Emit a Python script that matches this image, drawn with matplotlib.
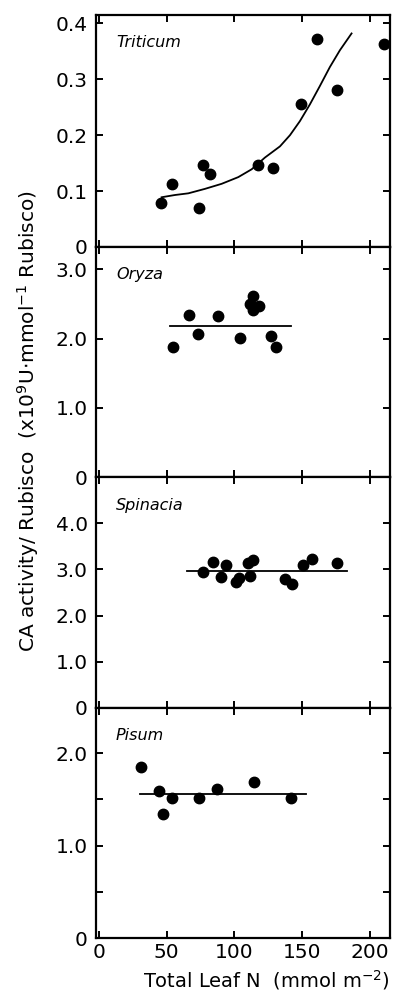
import matplotlib
matplotlib.use("Agg")
import matplotlib.pyplot as plt

# Triticum
tri_n = [45.8, 54.2, 74.1, 77.0, 82.2, 117.4, 128.3, 149.0, 161.2, 176.0, 210.7]
tri_ca = [0.078, 0.113, 0.069, 0.146, 0.130, 0.147, 0.142, 0.256, 0.372, 0.281, 0.363]
tri_fit_n = [46.3, 56.1, 66.0, 78.3, 90.6, 102.9, 112.8, 122.6, 133.7, 141.1,
             148.4, 155.8, 163.2, 170.6, 178.0, 186.6]
tri_fit_ca = [0.089, 0.093, 0.096, 0.104, 0.113, 0.125, 0.139, 0.160, 0.180, 0.200,
              0.225, 0.255, 0.288, 0.322, 0.352, 0.382]

# Oryza
ory_n = [54.6, 66.5, 72.9, 87.7, 104.0, 111.5, 113.5, 113.7, 118.2, 127.0, 130.5]
ory_ca = [1.88, 2.34, 2.07, 2.33, 2.01, 2.50, 2.62, 2.41, 2.47, 2.03, 1.88]
ory_fit_n = [52.7, 141.8]
ory_fit_ca = [2.18, 2.18]

# Spinacia
spi_n = [77.0, 84.4, 93.6, 89.9, 101.2, 103.6, 111.5, 109.8, 114.0, 137.4, 142.3, 150.4, 157.5, 175.6]
spi_ca = [2.94, 3.17, 3.10, 2.83, 2.73, 2.81, 2.85, 3.14, 3.20, 2.80, 2.68, 3.10, 3.23, 3.14]
spi_fit_n = [65.2, 183.0]
spi_fit_ca = [2.96, 2.96]

# Pisum
pis_n = [30.8, 44.1, 47.5, 54.1, 73.6, 87.1, 114.7, 141.6]
pis_ca = [1.855, 1.59, 1.34, 1.52, 1.51, 1.61, 1.69, 1.51]
pis_fit_n = [30.3, 153.0]
pis_fit_ca = [1.56, 1.56]

x_ticks = [0, 50, 100, 150, 200]

panels = [
    ("Triticum", tri_n, tri_ca, tri_fit_n, tri_fit_ca, 0.415,
     [0, 0.1, 0.2, 0.3, 0.4], ["0", "0.1", "0.2", "0.3", "0.4"], []),
    ("Oryza", ory_n, ory_ca, ory_fit_n, ory_fit_ca, 3.32,
     [0, 1, 2, 3], ["0", "1.0", "2.0", "3.0"], []),
    ("Spinacia", spi_n, spi_ca, spi_fit_n, spi_fit_ca, 5.0,
     [0, 1, 2, 3, 4], ["0", "1.0", "2.0", "3.0", "4.0"], []),
    ("Pisum", pis_n, pis_ca, pis_fit_n, pis_fit_ca, 2.49,
     [0, 1, 2], ["0", "1.0", "2.0"], [0.5, 1.5]),
]

H = 991.0
edges = [15, 247, 477.3, 707.7, 938.3]
left = 96 / 396.0
width = (390 - 96) / 396.0

fig = plt.figure(figsize=(3.96, 9.91), dpi=100)

for i, (name, xs, ys, fx, fy, ymax, yt, ytl, ymin) in enumerate(panels):
    bottom = 1 - edges[i + 1] / H
    height = (edges[i + 1] - edges[i]) / H
    ax = fig.add_axes([left, bottom, width, height])
    ax.plot(xs, ys, "o", color="black", markersize=7.5, clip_on=False, zorder=3)
    ax.plot(fx, fy, "-", color="black", linewidth=1.3)
    ax.set_xlim(-2.2, 215)
    ax.set_ylim(0, ymax)
    ax.set_xticks(x_ticks)
    ax.set_yticks(yt)
    ax.set_yticklabels(ytl)
    if ymin:
        ax.set_yticks(ymin, minor=True)
    ax.tick_params(which="both", direction="in", top=True, right=True,
                   width=1.4, length=5, labelsize=14.5)
    ax.tick_params(axis="y", pad=6)
    ax.tick_params(axis="x", pad=3.5)
    if i < 3:
        ax.tick_params(labelbottom=False)
    for s in ax.spines.values():
        s.set_linewidth(1.6)
    ax.text(0.068, 0.86, name, transform=ax.transAxes, fontsize=11.5,
            style="italic", va="baseline", ha="left")

fig.text(28 / 396.0, 1 - 421 / H,
         "CA activity/ Rubisco  (x10$^{9}$U$\\cdot$mmol$^{-1}$ Rubisco)",
         rotation=90, ha="center", va="center", fontsize=14.5)
fig.text(266 / 396.0, 1 - 987 / H, "Total Leaf N  (mmol m$^{-2}$)",
         ha="center", va="baseline", fontsize=14)

fig.savefig("out.png", dpi=100)
